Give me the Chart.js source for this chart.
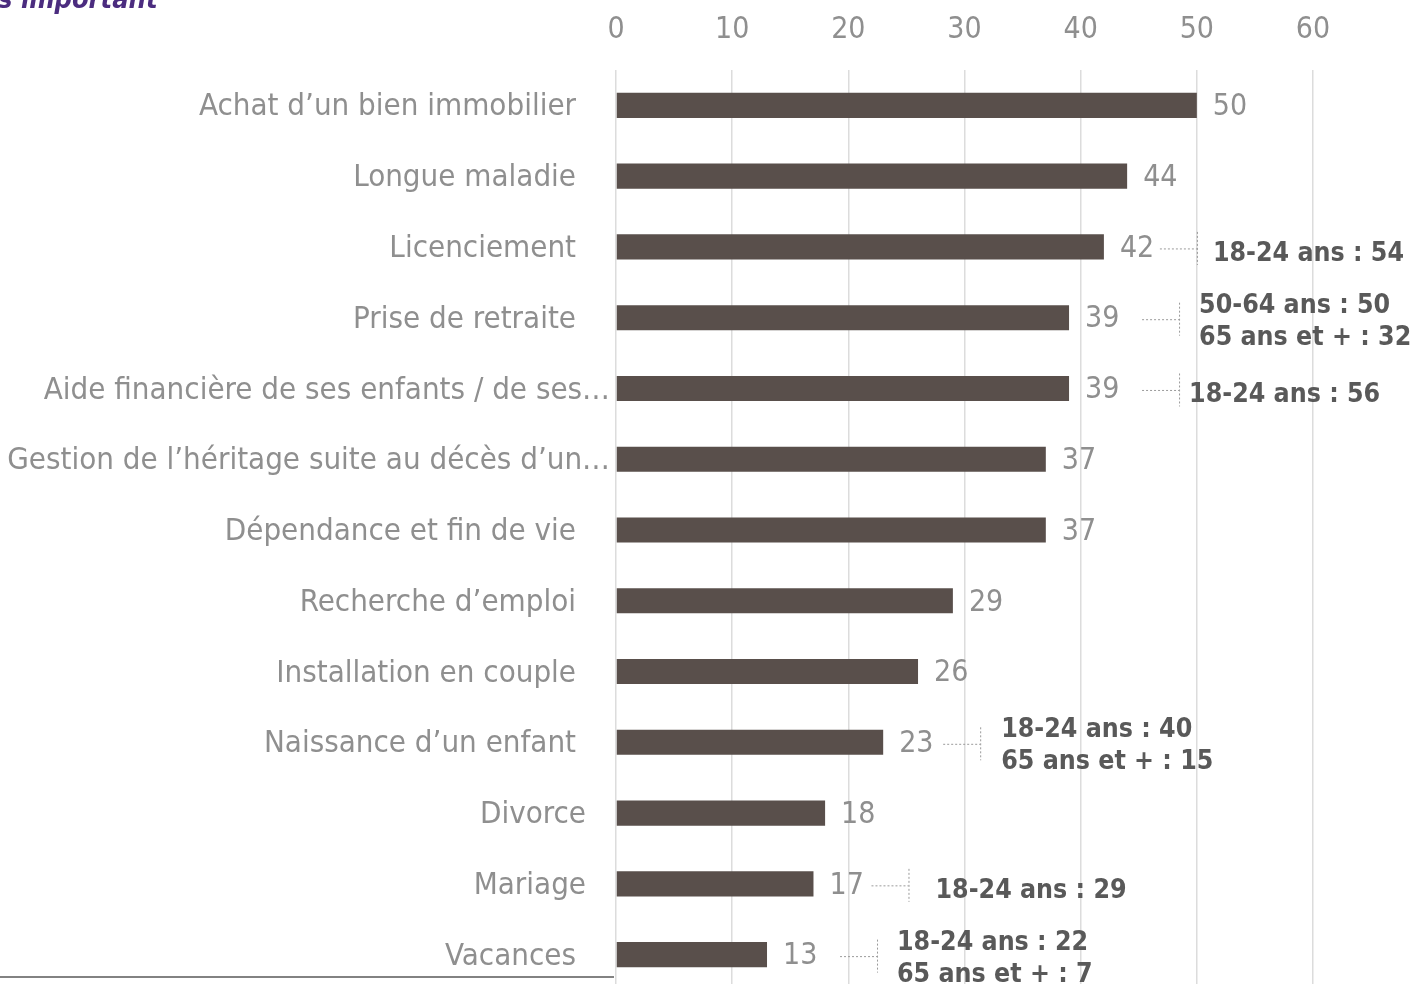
<!DOCTYPE html>
<html>
<head>
<meta charset="utf-8">
<script src="https://cdn.jsdelivr.net/npm/chart.js@4.4.0/dist/chart.umd.min.js"></script>
<style>
  html, body { margin: 0; padding: 0; background: #fff; overflow: hidden; }
</style>
</head>
<body>
<canvas id="chart" width="1413" height="990"></canvas>
<script>
// Data
const categories = [
    'Achat d’un bien immobilier',
    'Longue maladie',
    'Licenciement',
    'Prise de retraite',
    'Aide financière de ses enfants / de ses…',
    'Gestion de l’héritage suite au décès d’un…',
    'Dépendance et fin de vie',
    'Recherche d’emploi',
    'Installation en couple',
    'Naissance d’un enfant',
    'Divorce',
    'Mariage',
    'Vacances'
];
const values = [50, 44, 42, 39, 39, 37, 37, 29, 26, 23, 18, 17, 13];
const xTicks = [0, 10, 20, 30, 40, 50, 60];

// Side notes by age group (row index + lines)
const noteRows = [2, 3, 4, 9, 11, 12];
const noteLines = [
    ['18-24 ans : 54'],
    ['50-64 ans : 50', '65 ans et + : 32'],
    ['18-24 ans : 56'],
    ['18-24 ans : 40', '65 ans et + : 15'],
    ['18-24 ans : 29'],
    ['18-24 ans : 22', '65 ans et + : 7']
];
// offsets from bar end: [dotted line start, bracket x, text x]
const noteOffsets = [
    [56, 93, 109],
    [73, 110, 130],
    [73, 110, 120],
    [60, 97, 118],
    [58, 95, 122],
    [73, 110, 130]
];
// gap between category label and the axis (text boxes differ a little)
const labelGap = [40, 40, 40, 40, 6, 6, 40, 40, 40, 40, 30, 30, 40];

const FONT = '"DejaVu Sans Condensed", "DejaVu Sans", sans-serif';
const GREY = '#8f8f8f';

const extrasPlugin = {
    id: 'extras',
    afterDatasetsDraw(chart) {
        const ctx = chart.ctx;
        const bars = chart.getDatasetMeta(0).data;
        const yScale = chart.scales.y;
        ctx.save();

        // category labels
        ctx.font = '31px ' + FONT;
        ctx.fillStyle = GREY;
        ctx.textAlign = 'right';
        ctx.textBaseline = 'middle';
        categories.forEach((c, i) => {
            ctx.fillText(c, chart.chartArea.left - labelGap[i], yScale.getPixelForTick(i) + 2);
        });

        // value labels
        ctx.font = '30px ' + FONT;
        ctx.textAlign = 'left';
        bars.forEach((bar, i) => {
            ctx.fillText(values[i], bar.x + 16, bar.y + 2);
        });

        // notes with dotted connectors
        noteRows.forEach((row, n) => {
            const bar = bars[row];
            const off = noteOffsets[n];
            const y = bar.y;
            ctx.strokeStyle = '#9a9a9a';
            ctx.lineWidth = 1;
            ctx.setLineDash([2, 2]);
            ctx.beginPath();
            ctx.moveTo(bar.x + off[0], y + 2);
            ctx.lineTo(bar.x + off[1], y + 2);
            ctx.moveTo(bar.x + off[1] + 0.5, y - 15);
            ctx.lineTo(bar.x + off[1] + 0.5, y + 18);
            ctx.stroke();
            ctx.setLineDash([]);

            ctx.font = 'bold 26.5px ' + FONT;
            ctx.fillStyle = '#595959';
            const lines = noteLines[n];
            lines.forEach((t, k) => {
                const ty = lines.length === 1 ? y + 7 : y - 12 + k * 32;
                ctx.fillText(t, bar.x + off[2], ty);
            });
        });

        // bottom rule and cut title
        ctx.strokeStyle = '#595959';
        ctx.lineWidth = 1.5;
        ctx.beginPath();
        ctx.moveTo(0, 977);
        ctx.lineTo(614, 977);
        ctx.stroke();

        ctx.font = 'italic bold 27px ' + FONT;
        ctx.fillStyle = '#4b2c7f';
        ctx.textAlign = 'left';
        ctx.textBaseline = 'alphabetic';
        ctx.fillText('s important', -2, 8);
        ctx.restore();
    }
};

new Chart(document.getElementById('chart'), {
    type: 'bar',
    data: {
        labels: categories,
        datasets: [{
            data: values,
            backgroundColor: '#594f4b',
            barPercentage: 0.5,
            categoryPercentage: 0.71
        }]
    },
    options: {
        indexAxis: 'y',
        responsive: false,
        animation: false,
        layout: { padding: { top: 0, right: 100, bottom: 0, left: 0 } },
        plugins: {
            legend: { display: false },
            tooltip: { enabled: false }
        },
        scales: {
            x: {
                position: 'top',
                min: 0,
                max: 60,
                afterBuildTicks: scale => { scale.ticks = xTicks.map(v => ({ value: v })); },
                afterFit: scale => { scale.height = 70; },
                grid: { color: '#dcdcdc', lineWidth: 1.5, drawTicks: false },
                border: { display: false },
                ticks: { color: GREY, padding: 22, font: { family: FONT, size: 30 } }
            },
            y: {
                afterFit: scale => {
                    scale.width = 616;
                    scale.paddingTop = 0;
                    scale.paddingBottom = 0;
                },
                grid: { display: false, drawTicks: false },
                border: { display: false },
                ticks: { display: false }
            }
        }
    },
    plugins: [extrasPlugin]
});
</script>
</body>
</html>
